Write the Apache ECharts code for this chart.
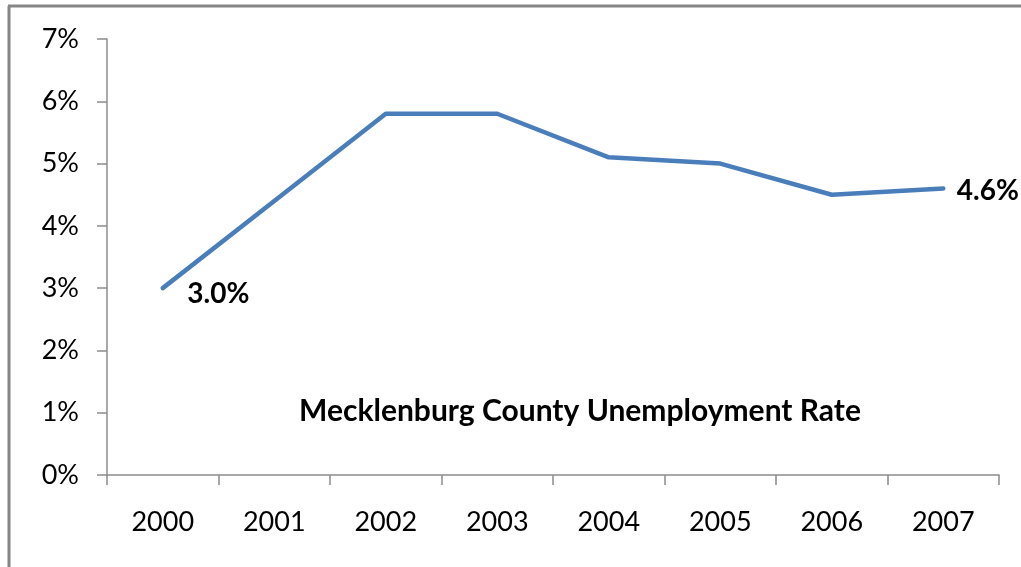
<!DOCTYPE html>
<html>
<head>
<meta charset="utf-8">
<style>
  html, body { margin: 0; padding: 0; background: #fff; }
  #chart { width: 1021px; height: 567px; }
</style>
<script src="https://cdn.jsdelivr.net/npm/echarts@6/dist/echarts.min.js"></script>
</head>
<body>
<div id="chart"></div>
<script>
// Annual unemployment rate, percent
const years = ['2000', '2001', '2002', '2003', '2004', '2005', '2006', '2007'];
const rates = [3.0, 4.4, 5.8, 5.8, 5.1, 5.0, 4.5, 4.6];
// Only the first and last points carry a value label
const labelledIndices = [0, 7];

const FONT = 'Lato, "Open Sans", sans-serif';
const AXIS_GREY = '#8c8c8c';
const LINE_BLUE = '#4a7ebb';

const chart = echarts.init(document.getElementById('chart'), null, { renderer: 'canvas' });

const seriesData = rates.map((v, i) => {
  const item = { value: v };
  if (labelledIndices.includes(i)) {
    const first = i === 0;
    item.label = {
      show: true,
      position: 'right',
      distance: first ? 24 : 13,
      offset: first ? [0, 6] : [0, 2],
      formatter: p => p.value.toFixed(1) + '%',
      fontFamily: FONT,
      fontWeight: 'bold',
      fontSize: 28,
      color: '#000'
    };
  }
  return item;
});

chart.setOption({
  animation: false,
  backgroundColor: '#fff',
  title: {
    text: 'Mecklenburg County Unemployment Rate',
    left: 575,
    top: 391,
    textAlign: 'center',
    textStyle: { fontFamily: FONT, fontWeight: 'bold', fontSize: 30, color: '#000' }
  },
  grid: { left: 107, right: 22, top: 39, bottom: 92, containLabel: false },
  xAxis: {
    type: 'category',
    data: years,
    boundaryGap: true,
    axisLine: { lineStyle: { color: AXIS_GREY, width: 1.5 } },
    axisTick: { show: true, length: 10, alignWithLabel: false, lineStyle: { color: AXIS_GREY, width: 1.5 } },
    axisLabel: { fontFamily: FONT, fontSize: 27, color: '#000', margin: 34 },
    splitLine: { show: false }
  },
  yAxis: {
    type: 'value',
    min: 0,
    max: 7,
    interval: 1,
    axisLine: { show: true, lineStyle: { color: AXIS_GREY, width: 1.5 } },
    axisTick: { show: true, length: 10, lineStyle: { color: AXIS_GREY, width: 1.5 } },
    axisLabel: { fontFamily: FONT, fontSize: 27, color: '#000', margin: 28, formatter: v => v + '%' },
    splitLine: { show: false }
  },
  series: [{
    type: 'line',
    data: seriesData,
    symbol: 'circle',
    symbolSize: 1,
    showSymbol: true,
    itemStyle: { color: LINE_BLUE },
    lineStyle: { color: LINE_BLUE, width: 4.5, cap: 'round', join: 'round' },
    label: { show: false }
  }],
  graphic: [
    { type: 'line', shape: { x1: 8, y1: 6, x2: 1021, y2: 6 }, style: { stroke: '#868686', lineWidth: 3 }, silent: true },
    { type: 'line', shape: { x1: 9, y1: 6, x2: 9, y2: 567 }, style: { stroke: '#868686', lineWidth: 3 }, silent: true }
  ]
});
</script>
</body>
</html>
